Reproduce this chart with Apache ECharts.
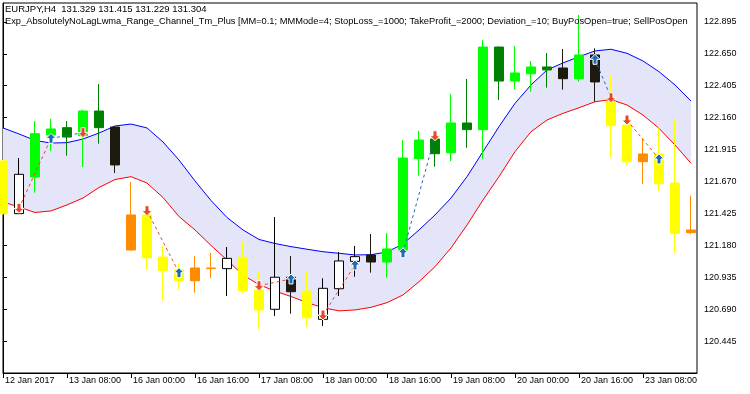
<!DOCTYPE html>
<html><head><meta charset="utf-8">
<script src="https://cdn.jsdelivr.net/npm/echarts@6/dist/echarts.min.js"></script>
<style>html,body{margin:0;padding:0;background:#fff}#c{width:750px;height:394px}</style>
</head><body><div id="c"></div>
<script>
// ---------- text ----------
const titleLine1 = 'EURJPY,H4  131.329 131.415 131.229 131.304';
const titleLine2 = 'Exp_AbsolutelyNoLagLwma_Range_Channel_Tm_Plus [MM=0.1; MMMode=4; StopLoss_=1000; TakeProfit_=2000; Deviation_=10; BuyPosOpen=true; SellPosOpen';

// ---------- axes ----------
const xTickBars = [0, 4, 8, 12, 16, 20, 24, 28, 32, 36, 40];
const xTickLabels = ['12 Jan 2017', '13 Jan 08:00', '16 Jan 00:00', '16 Jan 16:00', '17 Jan 08:00',
  '18 Jan 00:00', '18 Jan 16:00', '19 Jan 08:00', '20 Jan 00:00', '20 Jan 16:00', '23 Jan 08:00'];
const yTickValues = [120.445, 120.690, 120.935, 121.180, 121.425, 121.670, 121.915, 122.160, 122.405, 122.650, 122.895];

// ---------- candles (H4 bars, index 0..43) ----------
const opens  = [121.827,121.423,121.704,122.027,122.083,122.021,122.211,122.088,121.144,121.413,
                121.090,120.991,120.908,121.001,121.001,121.088,120.837,120.689,120.935,120.829,
                120.612,120.847,121.057,121.106,121.052,121.144,121.845,121.996,121.891,122.119,
                122.068,122.702,122.441,122.497,122.549,122.541,122.459,122.641,122.282,122.104,
                121.822,121.881,121.658,121.277];
const closes = [121.423,121.725,122.037,122.073,122.011,122.211,122.083,121.797,121.413,121.085,
                120.985,120.908,121.006,121.006,121.080,120.832,120.684,120.935,120.824,120.624,
                120.850,121.060,121.093,121.052,121.152,121.850,121.988,121.883,122.119,122.068,
                122.702,122.441,122.503,122.549,122.526,122.459,122.641,122.434,122.098,121.822,
                121.881,121.653,121.272,121.298];
const lows   = [121.415,121.420,121.584,121.904,121.868,121.781,121.960,121.735,121.140,120.998,
                120.755,120.842,120.816,120.929,120.791,120.809,120.538,120.638,120.655,120.555,
                120.561,120.791,120.939,120.970,120.932,121.136,121.714,121.784,121.827,121.929,
                121.840,122.296,122.380,122.359,122.390,122.375,122.436,122.282,121.856,121.797,
                121.651,121.599,121.123,121.265];
const highs  = [121.835,121.850,122.134,122.150,122.134,122.219,122.418,122.092,121.666,121.428,
                121.175,121.037,121.098,121.123,121.167,121.208,120.978,121.397,121.098,120.978,
                120.927,121.129,121.175,121.267,121.275,121.988,122.058,121.999,122.344,122.457,
                122.756,122.705,122.710,122.595,122.656,122.687,122.948,122.692,122.482,122.108,
                122.004,122.086,122.144,121.561];
// colour class of every bar: L lime, G green, K black, W white, Y yellow, O orange
const candleKinds = ['Y','W','L','L','G','L','G','K','O','Y','Y','Y','O','O','W','Y','Y','W','K','Y',
                     'W','W','W','K','L','L','L','G','L','G','L','G','L','L','G','K','L','K','Y','Y',
                     'O','Y','Y','O'];

// ---------- channel ----------
const upperBand = [122.081,122.035,121.985,121.965,121.968,121.996,122.042,122.096,122.111,122.081,
                   121.973,121.835,121.674,121.524,121.394,121.298,121.225,121.194,121.170,121.150,
                   121.131,121.119,121.106,121.108,121.129,121.190,121.298,121.413,121.543,121.707,
                   121.899,122.091,122.270,122.411,122.526,122.580,122.628,122.672,122.685,122.654,
                   122.595,122.513,122.411,122.288];
const lowerBand = [121.513,121.474,121.432,121.444,121.490,121.543,121.624,121.685,121.707,121.658,
                   121.547,121.401,121.298,121.179,121.067,120.952,120.878,120.829,120.787,120.741,
                   120.701,120.677,120.684,120.704,120.740,120.799,120.901,121.016,121.160,121.336,
                   121.528,121.707,121.899,122.052,122.142,122.193,122.236,122.282,122.299,122.257,
                   122.180,122.078,121.950,121.810];

// ---------- deals ----------
const buyDeals  = [[3,122.001],[11,120.970],[18,120.922],[22,121.029],[25,121.123],[37,122.608],[41,121.843]];
const sellDeals = [[1,121.464],[5,122.045],[9,121.446],[16,120.870],[20,120.645],[27,122.021],[38,122.313],[39,122.142]];
// positions: [openBar, openPrice, closeBar, closePrice]
const buyPositions  = [[3,122.001,5,122.045],[25,121.123,27,122.021],[37,122.608,38,122.313]];
const sellPositions = [[1,121.464,3,122.001],[9,121.446,11,120.970],[16,120.870,18,120.922],
                       [20,120.645,22,121.029],[39,122.142,41,121.843]];

// ---------- styles ----------
const kindStyle = {
  L: {fill: '#00ff00', line: '#00ff00'},
  G: {fill: '#008000', line: '#008000'},
  K: {fill: '#1c1a0e', line: '#1c1a0e'},
  W: {fill: '#ffffff', line: '#000000'},
  Y: {fill: '#ffff00', line: '#ffff00'},
  O: {fill: '#ff8c00', line: '#ff8c00'}
};
const BLUE_DEAL = '#1f6cb5', RED_DEAL = '#e8482a';
const FONT = 'Liberation Sans';

const candleData = opens.map((o, i) => {
  const s = kindStyle[candleKinds[i]];
  return {value: [i, o, closes[i], lows[i], highs[i]],
    itemStyle: {color: s.fill, color0: s.fill, borderColor: s.line, borderColor0: s.line}};
});
const lowerData = lowerBand.map((v, i) => [i, v]);
const upperData = upperBand.map((v, i) => [i, v]);

const series = [
  {type: 'custom', data: upperData, silent: true, z: 1, clip: true,
   renderItem: (params, api) => {
     if (params.dataIndex !== 0) return null;
     const pts = [];
     for (let i = 0; i < upperBand.length; i++) pts.push(api.coord([i, upperBand[i]]));
     for (let i = lowerBand.length - 1; i >= 0; i--) pts.push(api.coord([i, lowerBand[i]]));
     return {type: 'polygon', shape: {points: pts}, style: {fill: '#e4e5f8', stroke: null}};
   }},
  {type: 'line', data: upperData, symbol: 'none', silent: true,
   lineStyle: {color: '#0000ff', width: 1}, z: 2},
  {type: 'line', data: lowerData, symbol: 'none', silent: true,
   lineStyle: {color: '#ff0000', width: 1}, z: 2},
  {type: 'candlestick', data: candleData, barWidth: 10, z: 3,
   itemStyle: {borderWidth: 1}}
];
buyPositions.forEach(p => series.push({type: 'line', symbol: 'none', silent: true, z: 4,
  data: [[p[0], p[1]], [p[2], p[3]]], lineStyle: {color: BLUE_DEAL, width: 1, type: [3, 3]}}));
sellPositions.forEach(p => series.push({type: 'line', symbol: 'none', silent: true, z: 4,
  data: [[p[0], p[1]], [p[2], p[3]]], lineStyle: {color: RED_DEAL, width: 1, type: [3, 3]}}));
series.push({type: 'scatter', data: buyDeals, z: 5, symbolSize: 10,
  symbol: 'path://M5 0 L10 5 L7 5 L7 10 L3 10 L3 5 L0 5 Z',
  itemStyle: {color: BLUE_DEAL, borderColor: '#ffffff', borderWidth: 1, opacity: 1}});
series.push({type: 'scatter', data: sellDeals, z: 5, symbolSize: 10,
  symbol: 'path://M3 0 L7 0 L7 5 L10 5 L5 10 L0 5 L3 5 Z',
  itemStyle: {color: RED_DEAL, borderColor: '#ffffff', borderWidth: 1, opacity: 1}});

const chart = echarts.init(document.getElementById('c'), null, {renderer: 'canvas'});
chart.setOption({
  animation: false,
  backgroundColor: '#ffffff',
  grid: {left: 3, right: 53, top: 3, bottom: 21, show: true, borderColor: '#000', borderWidth: 1,
         containLabel: false},
  xAxis: {type: 'value', min: 0, max: 43.375,
    axisLine: {show: true, lineStyle: {color: '#000', width: 1}},
    axisTick: {show: true, length: 5, customValues: xTickBars, lineStyle: {color: '#000'}},
    axisLabel: {customValues: xTickBars, align: 'left', margin: 3, padding: [0, 0, 0, 2],
      color: '#000', fontSize: 9, fontFamily: FONT,
      formatter: v => { const k = xTickBars.indexOf(Math.round(v)); return k >= 0 ? xTickLabels[k] : ''; }},
    splitLine: {show: false}},
  yAxis: {type: 'value', position: 'right', min: 120.2, max: 123.04,
    axisLine: {show: true, lineStyle: {color: '#000', width: 1}},
    axisTick: {show: true, length: 4, customValues: yTickValues, lineStyle: {color: '#000'}},
    axisLabel: {customValues: yTickValues, margin: 7, color: '#000', fontSize: 9, fontFamily: FONT,
      formatter: v => v.toFixed(3)},
    splitLine: {show: false}},
  graphic: [
    {type: 'text', left: 5, top: 4, z: 10, silent: true,
     style: {text: titleLine1, font: '9.5px "' + FONT + '"', fill: '#000'}},
    {type: 'text', left: 5, top: 17, z: 10, silent: true,
     style: {text: titleLine2, font: '9.3px "' + FONT + '"', fill: '#000',
             width: 692, overflow: 'truncate', ellipsis: ''}}
  ],
  series: series
});
</script></body></html>
